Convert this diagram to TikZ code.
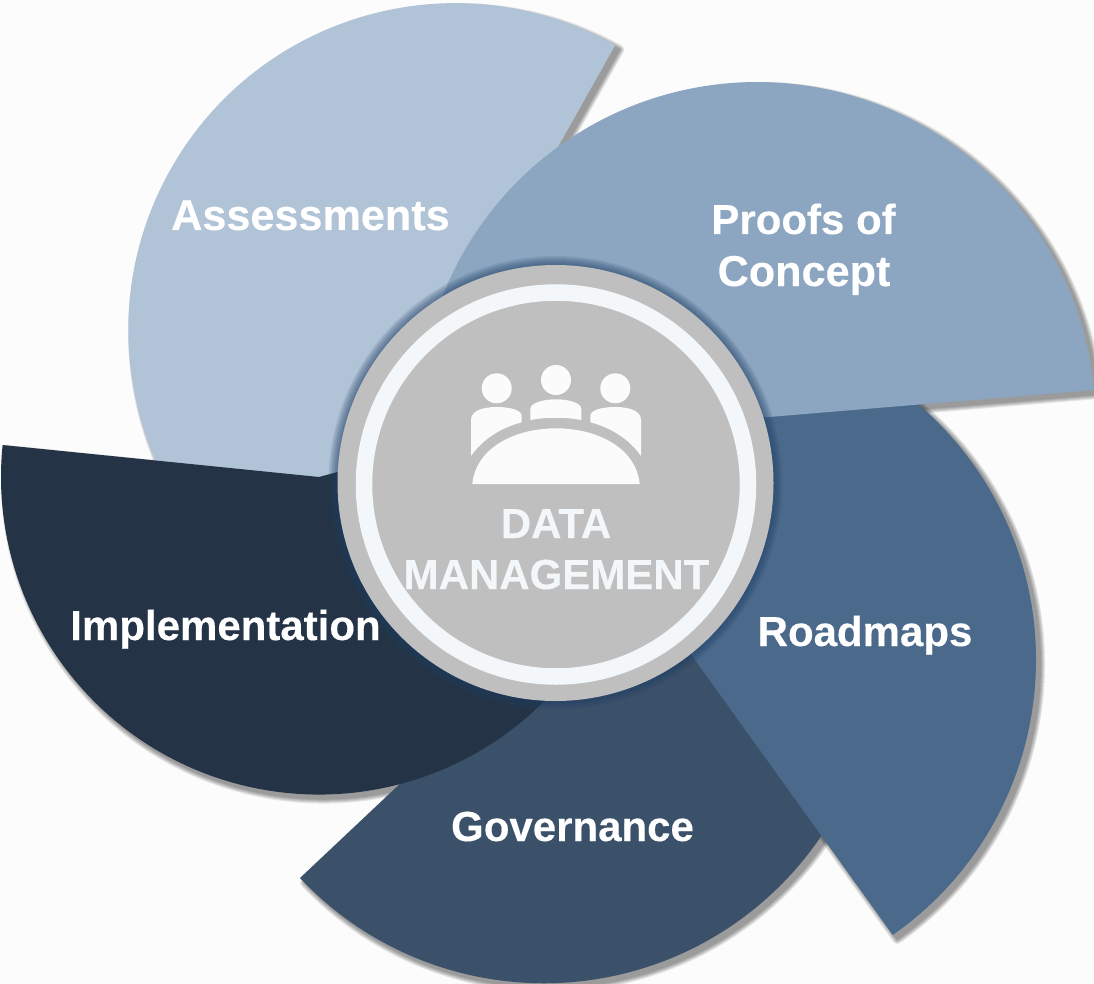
\documentclass[tikz,border=0pt]{standalone}
\usepackage{fontspec}
\setmainfont{Liberation Sans}
\newfontfamily\lblfont[FakeBold=0.25]{Liberation Sans Bold}
\definecolor{bgc}{HTML}{FCFCFC}
\definecolor{assessc}{HTML}{B1C3D6}
\definecolor{proofc}{HTML}{8CA6C1}
\definecolor{roadc}{HTML}{4B6A8B}
\definecolor{govc}{HTML}{3B5169}
\definecolor{implc}{HTML}{243446}
\definecolor{discc}{HTML}{BFBFBF}
\definecolor{ringc}{HTML}{F3F7F9}
\definecolor{iconc}{HTML}{FBFBFB}
\definecolor{glowc}{HTML}{1F3F66}
\tikzset{
  lbl/.style={font=\lblfont\fontsize{42}{52}\selectfont,text=white,inner sep=0pt,anchor=base,align=center},
  lblwide/.style={lbl,font=\lblfont\fontsize{43.2}{52}\selectfont},
  hublbl/.style={lbl,text=ringc},
  icon/.style={fill=iconc},
}
\newcommand{\castshadow}[1]{%
  \foreach \w in {9,7,5,3,1}{%
    \begin{scope}[transparency group,opacity=.09]
    \path[fill=black,draw=black,line width=\w pt,line join=round,shift={(4.5,4.5)}] #1;
    \end{scope}
  }
}
\def\shapeA{(615.3,45) arc[start angle=-60.7,end angle=-240,radius=327] -- (455,330) -- cycle}
\def\shapeG{(300,878) arc[start angle=136.7,end angle=20,radius=335] -- (640,560) -- (543.8,648.2) -- cycle}
\def\shapeR{(892.7,935) arc[start angle=55,end angle=-70,radius=336] -- (700,430) -- (670,625) -- cycle}
\def\shapeP{(1093.7,390) arc[start angle=-5.1,end angle=-170,radius=338] -- (757,418) -- cycle}
\def\shapeI{(2.6,445) arc[start angle=185.7,end angle=-15,radius=318] -- (319,477) -- cycle}
\begin{document}
\begin{tikzpicture}[x=1pt,y=-1pt]
\useasboundingbox (0,0) rectangle (1094,984);
\fill[bgc] (0,0) rectangle (1094,984);
% shadows fall on the background only
\castshadow{\shapeA}
\castshadow{\shapeG}
\castshadow{\shapeR}
\castshadow{\shapeP}
\castshadow{\shapeI}
% sectors
\path[fill=assessc] \shapeA;
\path[fill=govc] \shapeG;
\path[fill=roadc] \shapeR;
\path[fill=proofc] \shapeP;
\path[fill=implc] \shapeI;
% hub
\foreach \r in {9,7.5,6,4.5,3,1.5}{\fill[glowc,opacity=.12] (555.5,483) circle[radius=218+\r];}
\node[circle,fill=discc,minimum size=436pt,inner sep=0pt] (hub) at (555.5,483) {};
\node[circle,draw=ringc,line width=16.5pt,minimum size=384pt,inner sep=0pt] (ring) at (556,484.5) {};
% icon
\fill[icon] (496.7,388.3) circle[radius=15];
\fill[icon] (556,380) circle[radius=15];
\fill[icon] (615.3,388.3) circle[radius=15];
\fill[icon] (472.3,484) .. controls (476,447) and (516,428.3) .. (556,428.3) .. controls (596,428.3) and (636,447) .. (639.7,484) -- cycle;
\fill[icon] (471,456) -- (471,420) .. controls (471,411) and (482,407) .. (497,407) .. controls (510,407) and (521.7,410) .. (521.7,416) -- (521.7,422.3) .. controls (500,428) and (482,440) .. (471,456) -- cycle;
\fill[icon] (641,456) -- (641,420) .. controls (641,411) and (630,407) .. (615,407) .. controls (602,407) and (590.3,410) .. (590.3,416) -- (590.3,422.3) .. controls (612,428) and (630,440) .. (641,456) -- cycle;
\fill[icon] (530.3,420) -- (530.3,409) .. controls (530.3,403) and (543,399.3) .. (556,399.3) .. controls (569,399.3) and (581.3,403) .. (581.3,409) -- (581.3,420) .. controls (565,417) and (547,417) .. (530.3,420) -- cycle;
% labels
\node[lblwide] (assess) at (310.5,230) {Assessments};
\node[lbl] (proofs) at (803.5,234) {Proofs of};
\node[lblwide] (concept) at (804,286) {Concept};
\node[lbl] (impl) at (225.5,640) {Implementation};
\node[lbl] (road) at (865,646) {Roadmaps};
\node[lbl] (gov) at (572.5,841) {Governance};
\node[hublbl] (data) at (556,538) {DATA};
\node[hublbl] (mgmt) at (556.5,589) {MANAGEMENT};
\end{tikzpicture}
\end{document}
